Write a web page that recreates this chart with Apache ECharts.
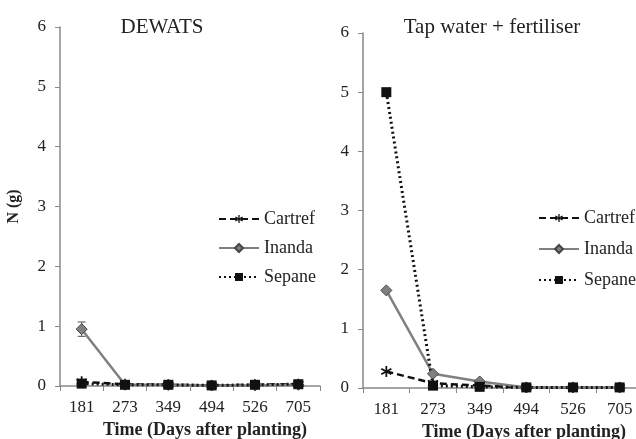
<!DOCTYPE html>
<html>
<head>
<meta charset="utf-8">
<script src="https://cdn.jsdelivr.net/npm/echarts@6/dist/echarts.min.js"></script>
<style>
html, body { margin: 0; padding: 0; background: #fff; }
#main { width: 636px; height: 439px; }
</style>
</head>
<body>
<div id="main"></div>
<script>
var days = ['181', '273', '349', '494', '526', '705'];

// DEWATS
var dewCartref = [0.07, 0.03, 0.02, 0.01, 0.02, 0.03];
var dewInanda = [0.95, 0.02, 0.02, 0.01, 0.01, 0.02];
var dewSepane = [0.04, 0.02, 0.02, 0.01, 0.02, 0.03];
var dewInandaErr = [0.12, 0, 0, 0, 0, 0];

// Tap water + fertiliser
var tapCartref = [0.28, 0.08, 0.04, 0.01, 0.01, 0.01];
var tapInanda = [1.65, 0.24, 0.11, 0.01, 0.01, 0.01];
var tapSepane = [5.0, 0.04, 0.02, 0.01, 0.01, 0.01];

var font = 'Liberation Serif';
var txt = '#222';
var star = 'path://M-1.5,-10L1.5,-10L1.5,10L-1.5,10Z' +
    'M7.91,6.3L-9.41,-3.7L-7.91,-6.3L9.41,3.7Z' +
    'M9.41,-3.7L-7.91,6.3L-9.41,3.7L7.91,-6.3Z';

var myChart = echarts.init(document.getElementById('main'));

function xAx(idx, gap, shift) {
    return {
        type: 'category', gridIndex: idx, data: days, boundaryGap: true,
        name: 'Time (Days after planting)', nameLocation: 'middle', nameGap: gap,
        nameTextStyle: { fontFamily: font, fontSize: 18, fontWeight: 'bold', color: txt,
                         padding: [0, 0, 0, shift] },
        axisLine: { lineStyle: { color: '#888', width: 1.5 } },
        axisTick: { show: true, alignWithLabel: false, length: 5, lineStyle: { color: '#888' } },
        axisLabel: { fontFamily: font, fontSize: 17, color: txt, margin: 13 }
    };
}
function yAx(idx, withName) {
    var a = {
        type: 'value', gridIndex: idx, min: 0, max: 6, interval: 1,
        axisLine: { show: true, lineStyle: { color: '#888', width: 1.5 } },
        axisTick: { show: true, length: 5, lineStyle: { color: '#888' } },
        splitLine: { show: false },
        axisLabel: { fontFamily: font, fontSize: 17, color: txt, margin: 14 }
    };
    if (withName) {
        a.name = 'N (g)';
        a.nameLocation = 'middle';
        a.nameGap = 38;
        a.nameRotate = 90;
        a.nameTextStyle = { fontFamily: font, fontSize: 16, fontWeight: 'bold', color: txt };
    }
    return a;
}
function lineSeries(name, data, idx) {
    var s = { name: name, type: 'line', data: data, xAxisIndex: idx, yAxisIndex: idx, symbolSize: 9, z: 3 };
    if (name === 'Cartref') {
        s.symbol = star; s.symbolSize = 11;
        s.itemStyle = { color: '#111' };
        s.lineStyle = { color: '#111', width: 2.5, type: [7, 4] };
    } else if (name === 'Inanda') {
        s.symbol = 'diamond'; s.symbolSize = 11;
        s.itemStyle = { color: '#808080', borderColor: '#444', borderWidth: 1 };
        s.lineStyle = { color: '#808080', width: 2.5, type: 'solid' };
    } else {
        s.symbol = 'rect'; s.symbolSize = 10;
        s.itemStyle = { color: '#111' };
        s.lineStyle = { color: '#111', width: 3, type: [2, 3] };
    }
    return s;
}

var option = {
    animation: false,
    backgroundColor: '#fff',
    title: [
        { text: 'DEWATS', left: 157, top: 12, textAlign: 'center',
          textStyle: { fontFamily: font, fontSize: 21, fontWeight: 'normal', color: txt } },
        { text: 'Tap water + fertiliser', left: 487, top: 12, textAlign: 'center',
          textStyle: { fontFamily: font, fontSize: 21, fontWeight: 'normal', color: txt } }
    ],
    legend: [
        { left: 218, top: 210, orient: 'vertical', padding: 0, itemWidth: 40, itemHeight: 10, itemGap: 11,
          data: ['Cartref', 'Inanda', 'Sepane'],
          textStyle: { fontFamily: font, fontSize: 18, color: txt } },
        { left: 538, top: 209, orient: 'vertical', padding: 0, itemWidth: 40, itemHeight: 10, itemGap: 13,
          data: ['Cartref', 'Inanda', 'Sepane'],
          textStyle: { fontFamily: font, fontSize: 18, color: txt } }
    ],
    grid: [
        { left: 60, top: 27, width: 260, height: 359, outerBoundsMode: 'none' },
        { left: 363, top: 33, width: 280, height: 355, outerBoundsMode: 'none' }
    ],
    xAxis: [xAx(0, 33, 30), xAx(1, 35, 42)],
    yAxis: [yAx(0, true), yAx(1, false)],
    series: [
        lineSeries('Cartref', dewCartref, 0),
        lineSeries('Inanda', dewInanda, 0),
        lineSeries('Sepane', dewSepane, 0),
        {
            type: 'custom', xAxisIndex: 0, yAxisIndex: 0, z: 2, silent: true,
            data: dewInanda.map(function (v, i) { return [i, v - dewInandaErr[i], v + dewInandaErr[i]]; }),
            renderItem: function (params, api) {
                if (api.value(2) - api.value(1) <= 0) return;
                var lo = api.coord([api.value(0), api.value(1)]);
                var hi = api.coord([api.value(0), api.value(2)]);
                var st = { stroke: '#555', lineWidth: 1 };
                return { type: 'group', children: [
                    { type: 'line', shape: { x1: lo[0], y1: lo[1], x2: hi[0], y2: hi[1] }, style: st },
                    { type: 'line', shape: { x1: lo[0] - 4, y1: lo[1], x2: lo[0] + 4, y2: lo[1] }, style: st },
                    { type: 'line', shape: { x1: hi[0] - 4, y1: hi[1], x2: hi[0] + 4, y2: hi[1] }, style: st }
                ] };
            }
        },
        lineSeries('Cartref', tapCartref, 1),
        lineSeries('Inanda', tapInanda, 1),
        lineSeries('Sepane', tapSepane, 1)
    ]
};

myChart.setOption(option);
</script>
</body>
</html>
